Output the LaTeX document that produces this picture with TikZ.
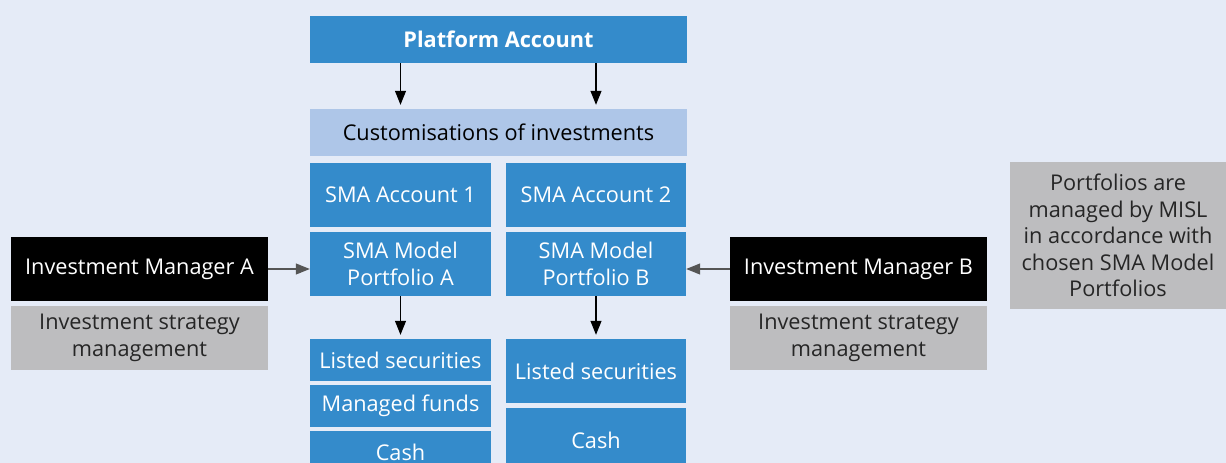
\documentclass[tikz,border=0pt]{standalone}
\usepackage{fontspec}
\setmainfont{Open Sans}
\usepackage{tikz}
\usetikzlibrary{arrows.meta}
\definecolor{PageBg}{HTML}{E5EBF7}
\definecolor{SmaBlue}{HTML}{348BCB}
\definecolor{CustBlue}{HTML}{AEC6E8}
\definecolor{NoteGray}{HTML}{BDBDBF}
\definecolor{ArrGray}{HTML}{555555}

\begin{document}
\begin{tikzpicture}[x=1pt,y=-1pt,
  box/.style={inner sep=0pt, align=center, font=\fontsize{21.7}{26.5}\selectfont},
  bluebox/.style={box, fill=SmaBlue, text=white},
  custbox/.style={box, fill=CustBlue, text=black},
  graybox/.style={box, fill=NoteGray, text=black!85},
  mgrbox/.style={box, fill=black, text=white},
  arr/.style={-{Triangle[length=14pt,width=11pt]}, line width=1.1pt, draw=black}]
  %
  \fill[PageBg] (0,0) rectangle (1226,463);
  \useasboundingbox (0,0) rectangle (1226,463);
  %
  % PLATFORM
  \node[bluebox, minimum width=377pt, minimum height=47pt, font=\fontsize{21.7}{26.5}\selectfont\bfseries] (plat) at (498.5,39.5) {Platform Account};
  \node[custbox, minimum width=377pt, minimum height=47pt] (cust) at (498.5,132.5) {Customisations of investments};
  % ACCOUNT 1
  \node[bluebox, minimum width=181pt, minimum height=64pt] (acc1) at (400.5,195) {SMA Account 1};
  \node[bluebox, minimum width=181pt, minimum height=64pt] (modA) at (400.5,264) {SMA Model\\Portfolio A};
  \node[bluebox, minimum width=181pt, minimum height=42pt] (lsA) at (400.5,360) {Listed securities};
  \node[bluebox, minimum width=181pt, minimum height=42pt] (mfA) at (400.5,406) {Managed funds};
  \node[bluebox, minimum width=181pt, minimum height=42pt] (cashA) at (400.5,452) {Cash};
  % ACCOUNT 2
  \node[bluebox, minimum width=180pt, minimum height=64pt] (acc2) at (596,195) {SMA Account 2};
  \node[bluebox, minimum width=180pt, minimum height=64pt] (modB) at (596,264) {SMA Model\\Portfolio B};
  \node[bluebox, minimum width=180pt, minimum height=64pt] (lsB) at (596,371) {Listed securities};
  \node[bluebox, minimum width=180pt, minimum height=64pt] (cashB) at (596,440) {Cash};
  % MANAGER A
  \node[mgrbox, minimum width=257pt, minimum height=64pt] (imA) at (139.5,269) {Investment Manager A};
  \node[graybox, minimum width=257pt, minimum height=64pt] (stratA) at (139.5,338) {Investment strategy\\management};
  % MANAGER B
  \node[mgrbox, minimum width=257pt, minimum height=64pt] (imB) at (858.5,269) {Investment Manager B};
  \node[graybox, minimum width=257pt, minimum height=64pt] (stratB) at (858.5,338) {Investment strategy\\management};
  % MISL
  \node[graybox, minimum width=216pt, minimum height=147pt] (misl) at (1118,235.5) {Portfolios are\\managed by MISL\\in accordance with\\chosen SMA Model\\Portfolios};
  %
  \draw[arr, shorten >=4pt] (plat.south -| acc1.north) -- (cust.north -| acc1.north);
  \draw[arr, shorten >=4pt] (plat.south -| acc2.north) -- (cust.north -| acc2.north);
  \draw[arr, shorten >=4pt] (modA.south) -- (lsA.north);
  \draw[arr, shorten >=4pt] (modB.south) -- (lsB.north |- lsA.north);
  \draw[arr, draw=ArrGray] (imA.east) -- (imA.east -| modA.west);
  \draw[arr, draw=ArrGray] (imB.west) -- (imB.west -| modB.east);
  %
\end{tikzpicture}
\end{document}
